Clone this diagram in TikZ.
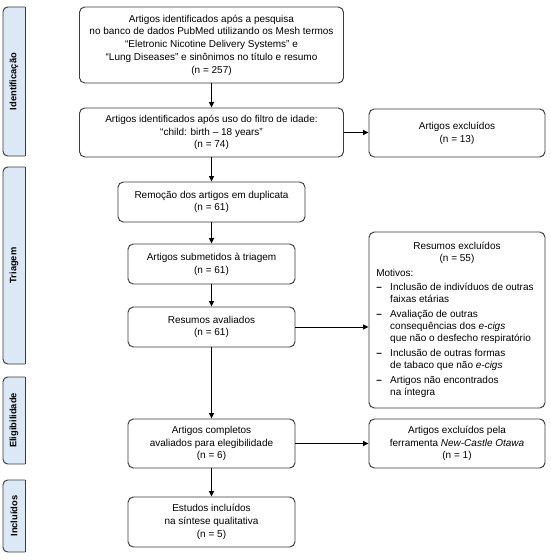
\documentclass[tikz,border=0pt]{standalone}
\usepackage{fontspec}
\setmainfont{Liberation Sans}
\usetikzlibrary{arrows.meta}
\definecolor{tabblue}{HTML}{DCE8F6}
\definecolor{edge}{HTML}{3A3A3A}
\begin{document}
\begin{tikzpicture}[x=0.75pt,y=-0.75pt,
  box/.style={draw=edge, line width=0.7pt, rounded corners=4pt, align=center, inner sep=0pt,
    font=\fontsize{7.5pt}{9.6pt}\selectfont},
  arr/.style={draw=black, line width=0.7pt, -{Triangle[length=4pt,width=3.6pt]}},
  tabtxt/.style={rotate=90, inner sep=0pt, font=\fontsize{7pt}{8pt}\selectfont\bfseries},
  tabshape/.style={fill=tabblue, draw=edge, line width=0.7pt, rounded corners=3.5pt},
  tabedge/.style={draw=edge, line width=0.7pt},
  plain/.style={inner sep=0pt, font=\fontsize{7.5pt}{9pt}\selectfont}
]
\useasboundingbox (0,0) rectangle (550,560);
\fill[white] (0,0) rectangle (550,560);

% side tabs
\begin{scope}
\clip (0,0) rectangle (25,560);
\path[tabshape] (32,7) -- (3,7) -- (3,156) -- (32,156) -- cycle;
\path[tabshape] (32,167) -- (3,167) -- (3,364) -- (32,364) -- cycle;
\path[tabshape] (32,377) -- (3,377) -- (3,464) -- (32,464) -- cycle;
\path[tabshape] (32,480) -- (3,480) -- (3,552) -- (32,552) -- cycle;
\end{scope}
\draw[tabedge] (25,7) -- (25,156);
\draw[tabedge] (25,167) -- (25,364);
\draw[tabedge] (25,377) -- (25,464);
\draw[tabedge] (25,480) -- (25,552);
\node[tabtxt] (t1) at (14,81.5) {Identificação};
\node[tabtxt] (t2) at (14,265.5) {Triagem};
\node[tabtxt] (t3) at (14,420.5) {Eligibilidade};
\node[tabtxt] (t4) at (14,516) {Incluídos};

% main column
\node[box, minimum width=198pt, minimum height=57pt] (b1) at (211.5,45)
  {Artigos identificados após a pesquisa\\
   no banco de dados PubMed utilizando os Mesh termos\\
   “Eletronic Nicotine Delivery Systems” e\\
   “Lung Diseases” e sinônimos no título e resumo\\
   (n = 257)};
\node[box, minimum width=198pt, minimum height=36.75pt] (b2) at (211.5,132.5)
  {Artigos identificados após uso do filtro de idade:\\
   “child: birth – 18 years”\\
   (n = 74)};
\node[box, minimum width=140.25pt, minimum height=30pt] (b3) at (211.5,202)
  {Remoção dos artigos em duplicata\\(n = 61)};
\node[box, minimum width=125.25pt, minimum height=30pt] (b4) at (211.5,264)
  {Artigos submetidos à triagem\\(n = 61)};
\node[box, minimum width=125.25pt, minimum height=30pt] (b5) at (211.5,327)
  {Resumos avaliados\\(n = 61)};
\node[box, minimum width=125.25pt, minimum height=36.75pt] (b6) at (211.5,443.5)
  {Artigos completos\\avaliados para elegibilidade\\(n = 6)};
\node[box, minimum width=125.25pt, minimum height=37.5pt] (b7) at (211.5,522)
  {Estudos incluídos\\na síntese qualitativa\\(n = 5)};

% right column
\node[box, minimum width=132pt, minimum height=36pt] (r1) at (457,133)
  {Artigos excluídos\\(n = 13)};
\node[box, minimum width=132pt, minimum height=132pt] (r2) at (457,320) {};
\node[plain, align=center] (r2h) at (457,253)
  {Resumos excluídos\\(n = 55)};
\node[plain, anchor=north west, align=left] (r2l) at (376,268)
  {\begin{tabular}{@{}l@{\hspace{6.3pt}}l@{}}
   \multicolumn{2}{@{}l@{}}{Motivos:}\\[1.5pt]
   \textbf{–} & Inclusão de indivíduos de outras\\
    & faixas etárias\\[2.2pt]
   \textbf{–} & Avaliação de outras\\
    & consequências dos \textit{e-cigs}\\
    & que não o desfecho respiratório\\[2.2pt]
   \textbf{–} & Inclusão de outras formas\\
    & de tabaco que não \textit{e-cigs}\\[2.2pt]
   \textbf{–} & Artigos não encontrados\\
    & na íntegra
   \end{tabular}};
\node[box, minimum width=132pt, minimum height=36.75pt] (r3) at (457,443.5)
  {Artigos excluídos pela\\ferramenta \textit{New-Castle Otawa}\\(n = 1)};

% connectors
\draw[arr] (b1.south) -- (b2.north);
\draw[arr] (b2.south) -- (b3.north);
\draw[arr] (b3.south) -- (b4.north);
\draw[arr] (b4.south) -- (b5.north);
\draw[arr] (b5.south) -- (b6.north);
\draw[arr] (b6.south) -- (b7.north);
\draw[arr] (b2.east) -- (b2.east -| r1.west);
\draw[arr] (b5.east) -- (b5.east -| r2.west);
\draw[arr] (b6.east) -- (b6.east -| r3.west);
\end{tikzpicture}
\end{document}
